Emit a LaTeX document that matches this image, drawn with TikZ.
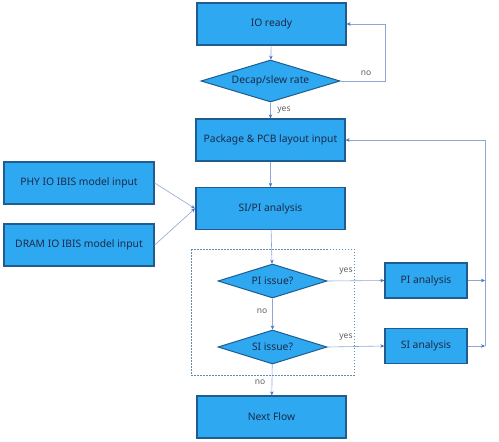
\documentclass[tikz,border=0pt]{standalone}
\usepackage{fontspec}
\setmainfont{Noto Sans}
\usetikzlibrary{shapes.geometric,arrows.meta}
\definecolor{boxfill}{HTML}{2EA8F0}
\definecolor{boxline}{HTML}{1F5C8F}
\definecolor{txt}{HTML}{1B2A4A}
\definecolor{conn}{HTML}{8EA6D6}
\definecolor{tip}{HTML}{4A72C0}
\definecolor{lbl}{HTML}{606060}
\begin{document}
\begin{tikzpicture}[x=1pt,y=-1pt,
  flowbox/.style={draw=boxline,fill=boxfill,line width=1.3pt,minimum width=149pt,minimum height=42pt,inner sep=0pt,text=txt,font=\fontsize{10.3}{12}\selectfont},
  smallbox/.style={flowbox,minimum width=82pt,minimum height=35pt},
  decide/.style={diamond,aspect=3.3,draw=boxline,fill=boxfill,line width=1pt,inner sep=0pt,text=txt,font=\fontsize{10.3}{12}\selectfont},
  conline/.style={draw=conn,line width=0.6pt,-{Stealth[length=4pt,width=3.5pt,color=tip]}},
  lab/.style={text=lbl,font=\fontsize{8.5}{10}\selectfont,inner sep=1pt}]
\useasboundingbox (0,0) rectangle (499,442);
\fill[white] (0,0) rectangle (499,442);
\node[flowbox] (io) at (271.5,24) {IO ready};
\node[decide,minimum width=139pt,minimum height=42pt] (decap) at (270.5,81) {Decap/slew rate};
\node[flowbox] (pkg) at (270.5,140) {Package \& PCB layout input};
\node[flowbox,minimum width=150pt] (phy) at (79,183) {PHY IO IBIS model input};
\node[flowbox,minimum width=150pt] (dram) at (79,245) {DRAM IO IBIS model input};
\node[flowbox] (sipi) at (270.5,208.5) {SI/PI analysis};
\node[decide,minimum width=109pt,minimum height=34pt] (pi) at (272.5,281) {PI issue?};
\node[decide,minimum width=109pt,minimum height=34pt] (si) at (272.5,347) {SI issue?};
\node[smallbox] (pia) at (426,280.5) {PI analysis};
\node[smallbox] (sia) at (426,346) {SI analysis};
\node[flowbox] (next) at (271.5,417) {Next Flow};
\draw[dashed,draw=boxline!70,line width=0.6pt,dash pattern=on 1.5pt off 1.5pt] (191,249) rectangle (354,375);
\coordinate (c1) at (385,81);
\coordinate (c2) at (385,24);
\coordinate (m) at (195,208.5);
\coordinate (r1) at (485,280.5);
\coordinate (r2) at (485,346);
\coordinate (r3) at (485,140);
\draw[conline] (io) -- (decap);
\draw[conline] (decap.east) -- (c1) -- (c2) -- (io.east);
\draw[conline] (decap) -- (pkg);
\draw[conline] (pkg) -- (sipi);
\draw[conline] (phy.east) -- (m);
\draw[conline] (dram.east) -- (m);
\draw[conline] (sipi) -- (pi);
\draw[conline] (pi) -- (si);
\draw[conline] (si) -- (next);
\draw[conline] (pi.east) -- (pia.west);
\draw[conline] (si.east) -- (sia.west);
\draw[conline] (pia.east) -- (r1);
\draw[conline] (sia.east) -- (r2);
\draw[conline] (r2) -- (r3) -- (pkg.east);
\node[lab] (lno1) at (366,73) {no};
\node[lab] (lyes1) at (284,110) {yes};
\node[lab] (lyes2) at (346,271) {yes};
\node[lab] (lno2) at (262,311) {no};
\node[lab] (lyes3) at (346,337) {yes};
\node[lab] (lno3) at (260,382) {no};
\end{tikzpicture}
\end{document}
